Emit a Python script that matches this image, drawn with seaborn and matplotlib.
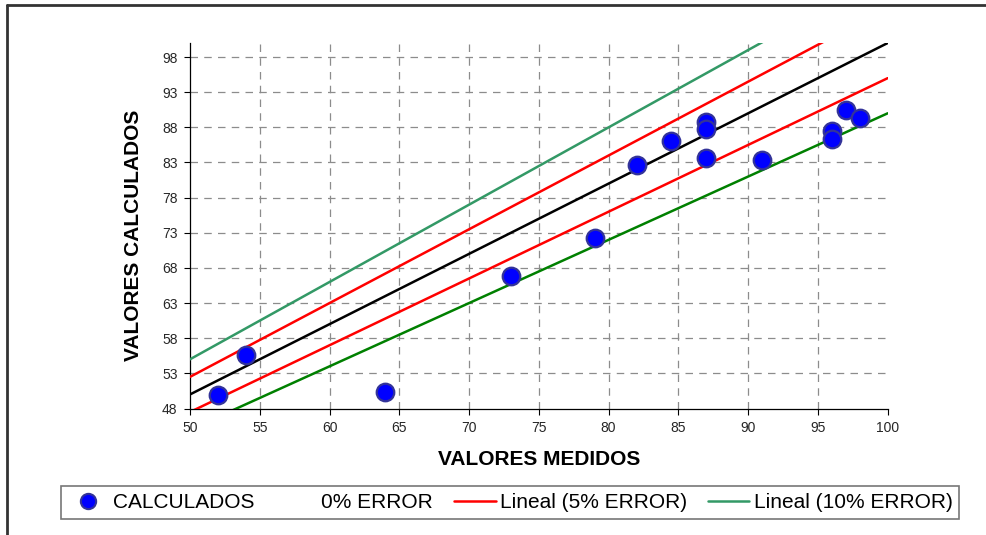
import numpy as np
import pandas as pd
import matplotlib
matplotlib.use("Agg")
import matplotlib.pyplot as plt
from matplotlib.lines import Line2D
import seaborn as sns

# Measured vs calculated values
medidos = [52, 54, 64, 73, 79, 82, 84.5, 87, 87, 87, 91, 96, 96, 97, 98]
calculados = [49.9, 55.6, 50.3, 66.9, 72.3, 82.6, 86.1, 88.7, 87.7, 83.7, 83.4, 87.5, 86.4, 90.5, 89.4]

# Error bands: y = factor * x over the measured range
x_range = [50, 100]
band_factors = [1.10, 1.05, 1.00, 0.95, 0.90]
band_colors = ["#339966", "#FF0000", "#000000", "#FF0000", "#008000"]

x_ticks = list(range(50, 101, 5))
y_ticks = list(range(48, 99, 5))

sns.set_theme(style="white")
plt.rcParams["font.family"] = ["Liberation Sans", "DejaVu Sans"]

fig = plt.figure(figsize=(9.87, 5.35), dpi=100)
W, H = 987, 535
ax = fig.add_axes([190 / W, 1 - 408.5 / H, (887.7 - 190) / W, (408.5 - 43) / H])

for f, c in zip(band_factors, band_colors):
    band = pd.DataFrame({"x": x_range, "y": [f * v for v in x_range]})
    sns.lineplot(data=band, x="x", y="y", color=c, linewidth=1.8, ax=ax, zorder=3)

pts = pd.DataFrame({"medidos": medidos, "calculados": calculados})
sns.scatterplot(data=pts, x="medidos", y="calculados", s=160, color="#0000FF",
                edgecolor="#333399", linewidth=1.6, ax=ax, zorder=4)

ax.set_xlim(50, 100)
ax.set_ylim(48, 100)
ax.set_xticks(x_ticks)
ax.set_yticks(y_ticks)
ax.tick_params(axis="both", direction="out", length=4, width=0.8, color="#000000",
               labelsize=10, pad=5, left=True, bottom=True)

ax.grid(True, linestyle=(0, (6, 5)), color="#8C8C8C", linewidth=0.9)
ax.xaxis.get_gridlines()[-1].set_visible(False)
ax.xaxis.get_gridlines()[0].set_visible(False)
ax.yaxis.get_gridlines()[0].set_visible(False)
ax.set_axisbelow(True)

for side in ["top", "right"]:
    ax.spines[side].set_visible(False)
for side in ["left", "bottom"]:
    ax.spines[side].set_color("#000000")
    ax.spines[side].set_linewidth(0.9)

ax.set_xlabel("VALORES MEDIDOS", fontsize=15, fontweight="bold", color="#000000")
ax.set_ylabel("VALORES CALCULADOS", fontsize=15, fontweight="bold", color="#000000")
ax.xaxis.set_label_coords(0.5, -0.1135)
ax.yaxis.set_label_coords(-0.068, 0.475)

handles = [
    Line2D([], [], linestyle="none", marker="o", markersize=11, markerfacecolor="#0000FF",
           markeredgecolor="#333399", markeredgewidth=1.5),
    Line2D([], [], color="none", linewidth=1.8),
    Line2D([], [], color="#FF0000", linewidth=1.8),
    Line2D([], [], color="#339966", linewidth=1.8),
]
labels = ["CALCULADOS", "0% ERROR", "Lineal (5% ERROR)", "Lineal (10% ERROR)"]
leg = fig.legend(handles, labels, ncol=4, loc="center", bbox_to_anchor=(510 / W, 1 - 502.5 / H),
                 fontsize=15, frameon=True, fancybox=False, shadow=False,
                 handlelength=2.0, handletextpad=0.2, columnspacing=1.0,
                 borderpad=0.32, edgecolor="#555555")
leg.get_frame().set_linewidth(1.2)
for t in leg.get_texts():
    t.set_color("#000000")

# Outer chart frame (top and left edges)
fig.add_artist(Line2D([6.5 / W, 1.0], [1 - 5 / H, 1 - 5 / H], color="#333333", linewidth=2,
                      transform=fig.transFigure))
fig.add_artist(Line2D([6.5 / W, 6.5 / W], [1 - 5 / H, 0.0], color="#333333", linewidth=2,
                      transform=fig.transFigure))

fig.savefig("out.png", dpi=100)
